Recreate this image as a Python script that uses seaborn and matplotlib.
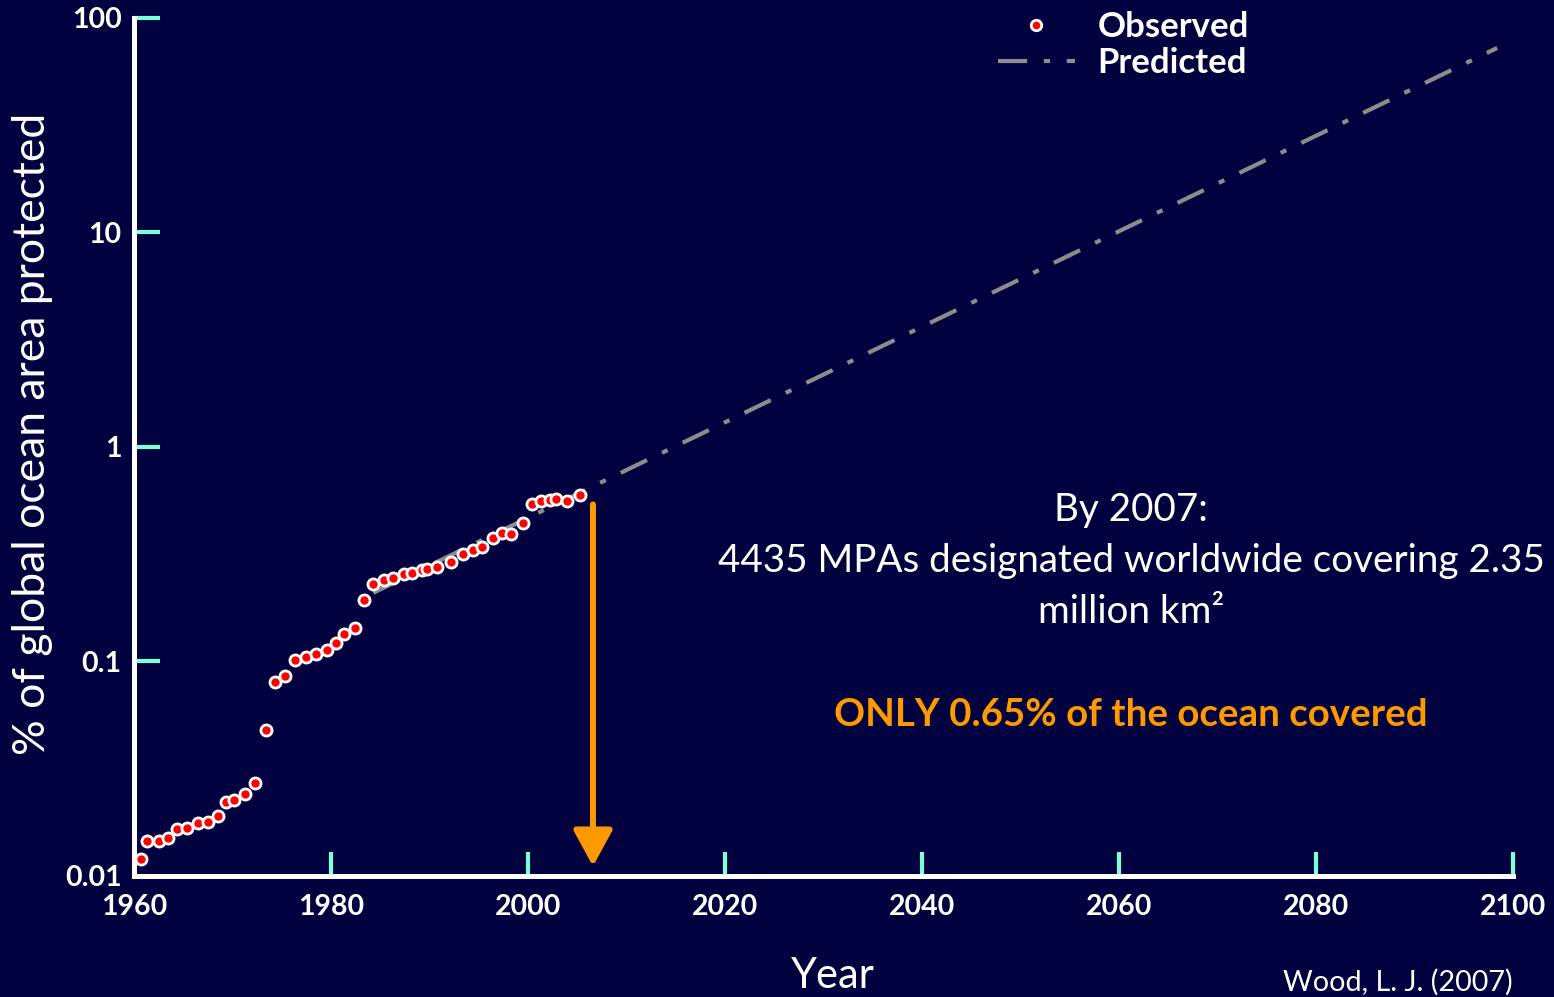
import matplotlib
matplotlib.use("Agg")
import matplotlib.pyplot as plt
import seaborn as sns
import pandas as pd
import numpy as np
from matplotlib.lines import Line2D

# Observed data (year, % of global ocean area protected)
obs_years = [1960.7, 1961.3, 1962.5, 1963.5, 1964.4, 1965.4, 1966.5, 1967.5, 1968.5, 1969.3,
             1970.2, 1971.3, 1972.3, 1973.4, 1974.3, 1975.3, 1976.4, 1977.5, 1978.5, 1979.6,
             1980.5, 1981.3, 1982.4, 1983.4, 1984.3, 1985.4, 1986.3, 1987.4, 1988.2, 1989.2,
             1989.7, 1990.8, 1992.2, 1993.4, 1994.4, 1995.3, 1996.5, 1997.4, 1998.3, 1999.5,
             2000.4, 2001.3, 2002.2, 2002.8, 2004.0, 2005.3]
obs_values = [0.0120, 0.0146, 0.0146, 0.0150, 0.0165, 0.0168, 0.0176, 0.0179, 0.0190, 0.0222,
              0.0226, 0.0241, 0.0272, 0.0481, 0.0805, 0.0856, 0.102, 0.1046, 0.1088, 0.1131,
              0.122, 0.1348, 0.1433, 0.193, 0.2306, 0.240, 0.244, 0.255, 0.258, 0.267,
              0.271, 0.275, 0.292, 0.317, 0.331, 0.342, 0.378, 0.396, 0.393, 0.442,
              0.541, 0.562, 0.566, 0.574, 0.562, 0.596]

# Predicted trend (log-linear)
pred_years = [1984.3, 2098.4]
pred_values = [0.209, 72.5]

# Arrow (2007 marker)
arrow_year = 2006.6
arrow_top = 0.54
arrow_bottom = 0.0111

x_ticks = [1960, 1980, 2000, 2020, 2040, 2060, 2080, 2100]
y_ticks = [0.01, 0.1, 1, 10, 100]
y_tick_labels = ["0.01", "0.1", "1", "10", "100"]

BG = "#01013f"
TEAL = "#7fffd4"
ORANGE = "#ff9900"
GREY = "#8c8c8c"
DASHDOT = (0, (7, 4, 1.5, 4))

sns.set_theme(style="white", rc={"axes.facecolor": BG, "figure.facecolor": BG})
plt.rcParams['font.family'] = ['Lato', 'DejaVu Sans']

fig = plt.figure(figsize=(15.54, 9.97), dpi=100)
ax = fig.add_axes([0.0862, 0.1214, 0.8874, 0.8606])
ax.set_facecolor(BG)

df_obs = pd.DataFrame({"year": obs_years, "value": obs_values})
df_pred = pd.DataFrame({"year": pred_years, "value": pred_values})

sns.lineplot(data=df_pred, x="year", y="value", ax=ax, color=GREY,
             linewidth=3, linestyle=DASHDOT, zorder=2)
ax.plot(df_obs["year"], df_obs["value"], linestyle="none", marker="o",
        markersize=8, markerfacecolor="#ff0000", markeredgecolor="white",
        markeredgewidth=2, zorder=3)

ax.set_yscale("log")
ax.set_xlim(1960, 2100)
ax.set_ylim(0.01, 100)

ax.set_xticks(x_ticks)
ax.set_xticklabels([str(t) for t in x_ticks])
ax.set_yticks(y_ticks)
ax.set_yticklabels(y_tick_labels)
ax.yaxis.set_minor_locator(matplotlib.ticker.NullLocator())

ax.tick_params(axis="x", bottom=True, direction="in", length=17, width=3, color=TEAL,
               labelsize=20.5, labelcolor="white", pad=13)
ax.tick_params(axis="y", left=True, direction="in", length=19, width=3, color=TEAL,
               labelsize=20.5, labelcolor="white", pad=9)
for lab in ax.get_xticklabels() + ax.get_yticklabels():
    lab.set_fontweight("bold")
ax.xaxis.get_major_ticks()[0].tick1line.set_visible(False)
ax.yaxis.get_major_ticks()[0].tick1line.set_visible(False)

for side in ["top", "right"]:
    ax.spines[side].set_visible(False)
for side in ["left", "bottom"]:
    ax.spines[side].set_color("white")
    ax.spines[side].set_linewidth(3.6)
    ax.spines[side].set_zorder(4)

ax.set_xlabel("")
ax.set_ylabel("")
fig.text(0.021, 0.565, "% of global ocean area protected", rotation=90,
         color="white", fontsize=32, ha="center", va="center")
fig.text(0.536, 0.021, "Year", color="white", fontsize=30, ha="center", va="center")
fig.text(0.9735, 0.015, "Wood, L. J. (2007)", color="white", fontsize=20.7,
         ha="right", va="center")

# Arrow
ax.annotate("", xy=(arrow_year, arrow_bottom), xytext=(arrow_year, arrow_top),
            arrowprops=dict(arrowstyle="-|>,head_width=0.6,head_length=1.1",
                            mutation_scale=20, color=ORANGE, lw=4.3,
                            shrinkA=0, shrinkB=0),
            zorder=5)

# Annotations
cx = 0.7278
fig.text(cx, 0.488, "By 2007:", color="white", fontsize=27.8, ha="center", va="center")
fig.text(cx, 0.437, "4435 MPAs designated worldwide covering 2.35",
         color="white", fontsize=27.8, ha="center", va="center")
fig.text(cx, 0.386, "million km²", color="white", fontsize=27.8, ha="center", va="center")
fig.text(cx, 0.283, "ONLY 0.65% of the ocean covered", color=ORANGE,
         fontsize=27.7, fontweight="bold", ha="center", va="center")

# Legend
handles = [
    Line2D([], [], linestyle="none", marker="o", markersize=7.5, markerfacecolor="#ff0000",
           markeredgecolor="white", markeredgewidth=2),
    Line2D([], [], color=GREY, linewidth=3, linestyle=DASHDOT),
]
leg = ax.legend(handles, ["Observed", "Predicted"], loc="upper left",
                bbox_to_anchor=(0.604, 1.0445), frameon=False, fontsize=25,
                handlelength=2.2, handletextpad=0.66, labelspacing=0.12)
for t in leg.get_texts():
    t.set_color("white")
    t.set_fontweight("bold")

fig.savefig("out.png", dpi=100, facecolor=BG)
